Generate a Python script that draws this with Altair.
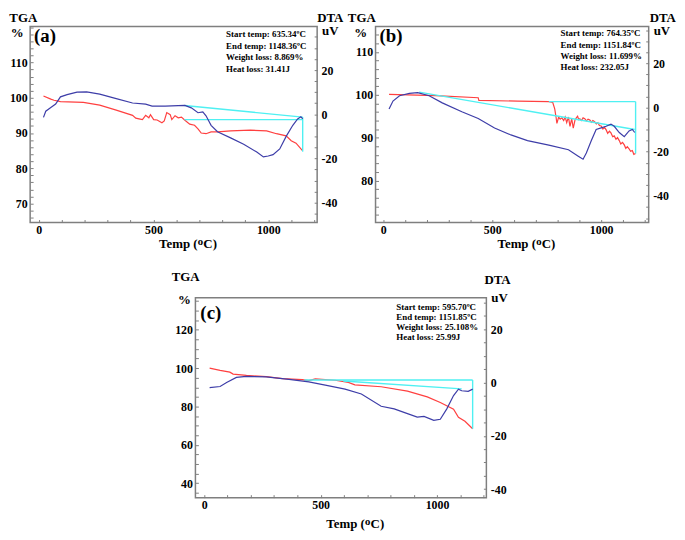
import altair as alt
import pandas as pd

FONT = "Liberation Serif"
RED = "#ff4040"
BLUE = "#3d3da8"
CYAN = "#4ff0f2"
FRAME = "#7f7f7f"

# ---------------- Panel (a) ----------------
A_TGA_T = [21, 53, 67, 95, 195, 266, 338, 409, 423, 437, 452, 466, 480, 487, 501, 516, 537, 547, 558, 573,
           580, 594, 608, 622, 637, 658, 679, 694, 708, 729, 751, 779, 836, 922, 993, 1036, 1078, 1100, 1121, 1150]
A_TGA = [100.5, 99.6, 99.3, 98.9, 98.7, 97.9, 96.5, 95.0, 94.2, 94.0, 93.8, 95.0, 94.3, 95.2, 93.8, 93.7, 92.9,
         93.4, 95.8, 95.2, 93.8, 94.9, 94.3, 94.5, 93.6, 92.5, 92.2, 91.2, 90.0, 89.8, 90.3, 90.3, 90.6, 90.8,
         90.6, 89.8, 89.2, 87.8, 87.1, 84.9]
A_DTA_T = [21, 31, 53, 74, 95, 124, 167, 209, 266, 338, 409, 466, 494, 551, 608, 637, 665, 694, 715, 729, 751,
           779, 836, 893, 950, 979, 1000, 1021, 1050, 1078, 1107, 1128, 1142, 1150]
A_DTA = [-1.4, 1.4, 3.1, 4.6, 7.9, 8.9, 10.0, 10.1, 9.1, 7.1, 5.1, 4.6, 3.7, 3.7, 3.9, 4.0, 2.9, 0.7, 1.1, -0.7,
         -5.0, -7.9, -10.7, -13.6, -17.1, -19.3, -18.9, -18.3, -15.7, -10.0, -5.0, -2.1, -1.1, -2.1]
A_CYAN_T = [635, 1150, 635, 1150, 1150, 1150]
A_CYAN_Y = [97.8, 94.5, 93.8, 93.8, 94.5, 84.7]
A_CYAN_SEG = [0, 0, 1, 1, 2, 2]
A_INFO = ["Start temp: 635.34ºC", "End temp: 1148.36ºC", "Weight loss: 8.869%", "Heat loss: 31.41J"]

# ---------------- Panel (b) ----------------
B_TGA_T = [27, 241, 436, 439, 617, 760, 778, 787, 793, 797, 805, 812, 820, 828, 835, 842, 850, 857, 865, 872,
           880, 886, 892, 897, 902, 910, 917, 925, 932, 940, 948, 955, 962, 970, 978, 985, 992, 1000, 1008, 1015,
           1023, 1030, 1038, 1045, 1053, 1060, 1068, 1075, 1083, 1090, 1098, 1106, 1113, 1120, 1128, 1135, 1143,
           1150, 1158]
B_TGA = [100.1, 99.8, 99.3, 98.7, 98.5, 98.4, 98.2, 96.7, 94.8, 93.3, 94.8, 94.3, 94.6, 94.0, 94.8, 93.5, 94.8,
         92.6, 94.4, 92.2, 94.1, 94.6, 95.0, 94.2, 94.4, 94.0, 94.6, 94.4, 93.9, 94.3, 94.1, 93.6, 94.0, 93.7,
         93.2, 93.5, 92.8, 92.7, 92.0, 92.4, 91.8, 91.0, 91.5, 91.1, 90.2, 90.4, 89.6, 90.0, 89.3, 88.5, 88.9,
         88.3, 87.5, 87.9, 87.4, 86.8, 87.0, 86.1, 86.3]
B_DTA_T = [27, 45, 75, 120, 158, 211, 271, 361, 436, 511, 586, 662, 760, 850, 895, 917, 932, 955, 977, 1000,
           1023, 1045, 1060, 1083, 1106, 1128, 1143, 1154]
B_DTA = [-0.7, 2.9, 5.3, 6.4, 6.7, 5.3, 2.1, -1.9, -5.0, -9.3, -12.4, -15.0, -17.0, -19.1, -22.0, -23.4, -20.6,
         -14.9, -9.9, -9.2, -8.5, -7.5, -8.5, -11.3, -13.2, -10.6, -9.9, -11.3]
B_CYAN_T = [165, 1154, 760, 1158, 1158, 1158]
B_CYAN_Y = [100.6, 91.9, 98.4, 98.4, 98.4, 86.3]
B_CYAN_SEG = [0, 0, 1, 1, 2, 2]
B_INFO = ["Start temp: 764.35ºC", "End temp: 1151.84ºC", "Weight loss: 11.699%", "Heat loss: 232.05J"]

# ---------------- Panel (c) ----------------
C_TGA_T = [23, 68, 110, 124, 181, 266, 336, 421, 449, 477, 562, 619, 647, 760, 873, 958, 1014, 1071, 1092,
           1120, 1153]
C_TGA = [100.0, 98.8, 97.9, 96.9, 96.2, 95.6, 94.5, 94.0, 93.5, 94.4, 93.7, 92.6, 91.3, 90.3, 88.0, 85.0, 82.1,
         78.6, 74.4, 72.3, 68.4]
C_DTA_T = [23, 68, 96, 138, 181, 266, 364, 449, 520, 605, 675, 760, 816, 873, 915, 944, 986, 1014, 1042, 1071,
           1092, 1106, 1134, 1153]
C_DTA = [-1.9, -1.5, 0.0, 1.9, 2.3, 2.1, 1.2, 0.2, -1.0, -2.5, -4.3, -8.9, -9.9, -11.7, -13.0, -12.7, -14.2,
         -13.8, -9.9, -4.9, -2.5, -3.1, -3.3, -2.5]
C_CYAN_T = [430, 1153, 597, 1106, 1153, 1153]
C_CYAN_Y = [93.8, 93.8, 93.3, 89.2, 93.8, 68.4]
C_CYAN_SEG = [0, 0, 1, 1, 2, 2]
C_INFO = ["Start temp: 595.70ºC", "End temp: 1151.85ºC", "Weight loss: 25.108%", "Heat loss: 25.99J"]

X_TICKS = list(range(0, 1201, 100))
X_LABELS = [0, 500, 1000]


def sel_expr(vals, hyphen=False):
    arr = "[" + ",".join(str(v) for v in vals) + "]"
    lab = "'' + datum.value" if hyphen else "datum.label"
    return f"indexof({arr}, datum.value) >= 0 ? {lab} : ''"


def txt(s, x, y, size, align="left", baseline="middle", line_height=None):
    kw = dict(text=s, font=FONT, fontWeight="bold", fontSize=size, align=align,
              baseline=baseline, color="black")
    if line_height is not None:
        kw["lineHeight"] = line_height
    return alt.Chart(pd.DataFrame({"k": [0]})).mark_text(**kw).encode(
        x=alt.value(x), y=alt.value(y))


def panel(tga_t, tga, dta_t, dta, cy_t, cy_y, cy_seg, info, tag,
          xdom, tdom, ddom, tticks, tlabels, dticks, dlabels, w, h, lay):
    xs = alt.Scale(domain=xdom, nice=False, zero=False)
    xaxis = alt.Axis(values=X_TICKS, labelExpr=sel_expr(X_LABELS), format="d",
                     title="Temp (ᴼC)", titleX=w / 2 + 14, titlePadding=lay["tpad"],
                     tickSize=3, offset=-3, domain=False, grid=False, labelPadding=2,
                     labelFlush=False, labelOverlap=False)
    x = alt.X("T:Q", scale=xs, axis=xaxis)
    ts = alt.Scale(domain=tdom, nice=False, zero=False)
    ds = alt.Scale(domain=ddom, nice=False, zero=False)
    taxis = alt.Axis(values=tticks, labelExpr=sel_expr(tlabels), orient="left", title=None,
                     tickSize=3, offset=-3, domain=False, grid=False, labelPadding=3,
                     labelOverlap=False)
    daxis = alt.Axis(values=dticks, labelExpr=sel_expr(dlabels, hyphen=True), orient="right",
                     title=None, tickSize=3, offset=-3, domain=False, grid=False,
                     labelPadding=4, labelOverlap=False)

    red = alt.Chart(pd.DataFrame({"T": tga_t, "v": tga})).mark_line(
        color=RED, strokeWidth=1.2).encode(x=x, y=alt.Y("v:Q", scale=ts, axis=taxis))
    cyan = alt.Chart(pd.DataFrame({"T": cy_t, "v": cy_y, "seg": cy_seg,
                                   "i": list(range(len(cy_t)))})).mark_line(
        color=CYAN, strokeWidth=1.4).encode(x=x, y=alt.Y("v:Q", scale=ts, axis=taxis),
                                            detail="seg:N", order="i:Q")
    tga_layer = alt.layer(red, cyan)
    blue = alt.Chart(pd.DataFrame({"T": dta_t, "d": dta})).mark_line(
        color=BLUE, strokeWidth=1.2).encode(x=x, y=alt.Y("d:Q", scale=ds, axis=daxis))

    texts = [
        txt(tag, lay["tag"][0], lay["tag"][1], 19),
        txt(info, w - lay["info"][0], lay["info"][1], 9, baseline="top", line_height=lay["info"][2]),
        txt("%", lay["pct"][0], lay["pct"][1], 13, align="center"),
        txt("TGA", lay["tga"][0], lay["tga"][1], 13),
        txt("DTA", w + lay["dta"][0], lay["dta"][1], 13),
        txt("uV", w + lay["uv"][0], lay["uv"][1], 13),
    ]
    return alt.layer(tga_layer, blue, *texts).resolve_scale(y="independent").properties(
        width=w, height=h)


A = panel(A_TGA_T, A_TGA, A_DTA_T, A_DTA, A_CYAN_T, A_CYAN_Y, A_CYAN_SEG, A_INFO, "(a)",
          [-37, 1213], [64.6, 120.2], [-49, 39.7],
          list(range(66, 121, 2)), [70, 80, 90, 100, 110],
          list(range(-45, 36, 5)), [-40, -20, 0, 20],
          290, 198,
          dict(tpad=2, tag=(4, 10), info=(92, 4, 11.5), pct=(-13, 7), tga=(-21, -8.5),
               dta=(0, -8.5), uv=(5, 5)))

B = panel(B_TGA_T, B_TGA, B_DTA_T, B_DTA, B_CYAN_T, B_CYAN_Y, B_CYAN_SEG, B_INFO, "(b)",
          [-35, 1218], [70.2, 115.9], [-52, 36.6],
          list(range(72, 115, 2)), [80, 90, 100, 110],
          list(range(-50, 36, 5)), [-40, -20, 0, 20],
          276, 198,
          dict(tpad=2, tag=(4, 10), info=(89, 3, 11.2), pct=(-15, 7), tga=(-28, -8.5),
               dta=(1, -8.5), uv=(5, 5)))

C = panel(C_TGA_T, C_TGA, C_DTA_T, C_DTA, C_CYAN_T, C_CYAN_Y, C_CYAN_SEG, C_INFO, "(c)",
          [-38, 1212], [32.5, 136.7], [-43.2, 31.8],
          list(range(35, 136, 5)), [40, 60, 80, 100, 120],
          list(range(-40, 31, 5)), [-40, -20, 0, 20],
          294, 202,
          dict(tpad=7.5, tag=(5, 15), info=(91, 5.5, 10), pct=(-11, 2), tga=(-24, -21),
               dta=(-2, -18), uv=(5, 0)))

top = alt.hconcat(A, B, spacing=2)
chart = alt.vconcat(top, C, spacing=19, center=True).properties(
    padding={"left": 0, "top": 0, "right": 0, "bottom": 0},
    background="white",
).configure_view(
    stroke=FRAME, strokeWidth=1.5, fill="white"
).configure_axis(
    labelFont=FONT, labelFontWeight="bold", labelFontSize=12, labelColor="black",
    titleFont=FONT, titleFontWeight="bold", titleFontSize=13, titleColor="black",
    tickColor=FRAME, tickWidth=1,
)

chart.save("out.html", embed_options={"renderer": "svg", "actions": False})
